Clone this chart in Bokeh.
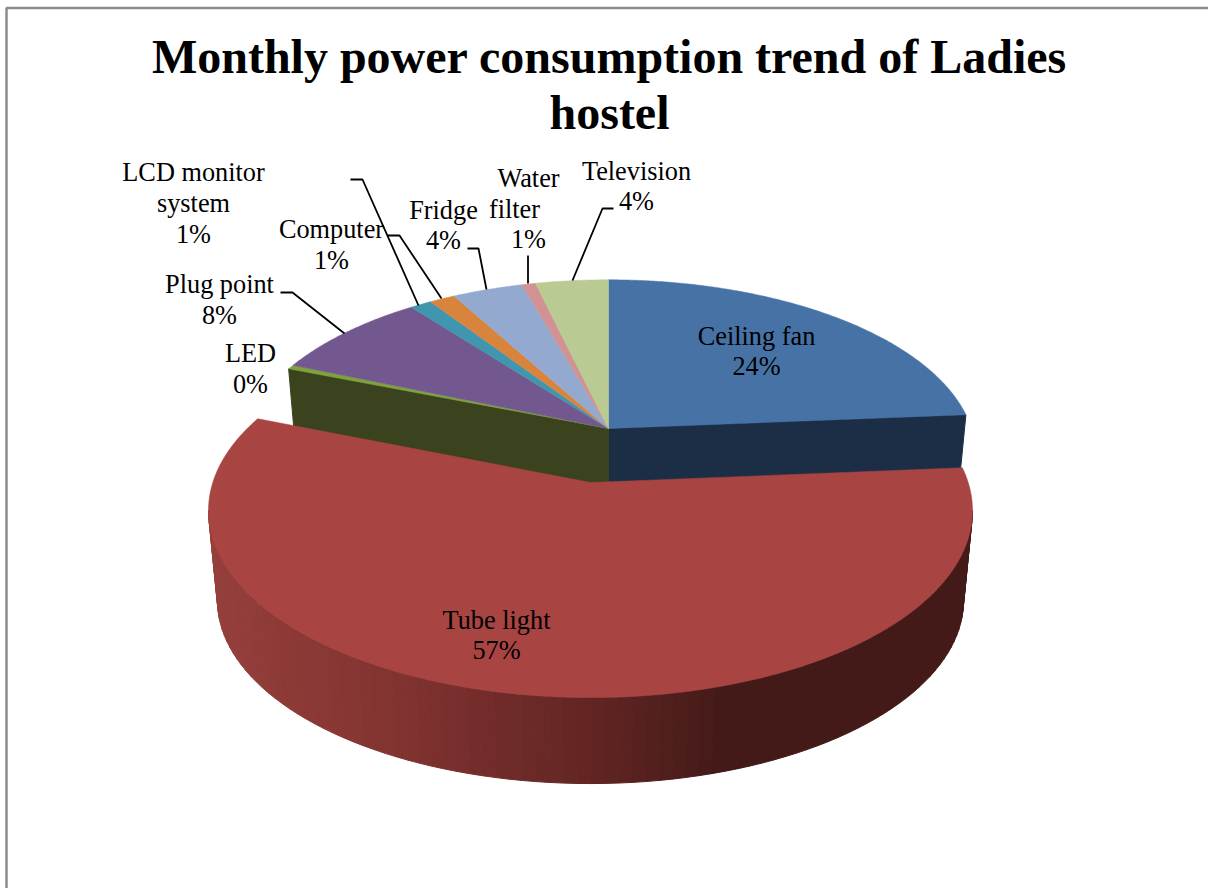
import numpy as np
from bokeh.plotting import figure
from bokeh.models import Range1d
from bokeh.core.properties import value
from bokeh.embed import file_html
from bokeh.resources import INLINE

# ---- data (clockwise from 12 o'clock) ----
categories = ["Ceiling fan", "Tube light", "LED", "Plug point", "LCD monitor system",
              "Computer", "Fridge", "Water filter", "Television"]
shares = [23.7, 57.3, 0.4, 8.2, 1.1, 1.3, 3.6, 0.7, 3.7]
title_lines = ["Monthly power consumption trend of Ladies", "hostel"]

# ---- style ----
top_colors = ["#4672a6", "#a84442", "#7fa23e", "#73578f", "#3f96ae",
              "#d9843c", "#93a9d0", "#d09292", "#b9cb92"]
cut_ceiling = "#1b2e46"
cut_led = "#3a431e"
wall_stops_x = [217, 400, 590, 720, 965]
wall_stops_rgb = [(0x95, 0x3f, 0x3b), (0x81, 0x33, 0x30), (0x62, 0x25, 0x23), (0x43, 0x1a, 0x18), (0x43, 0x1a, 0x18)]
K = 0.15  # perspective strength
BACK = dict(cx=608, cy=428, R=363, A=171)
BACK_LOW = dict(cx=608, cy=518, R=354, A=168)
FRONT = dict(cx=590, cy=482, R=377.7, A=182.8)
FRONT_LOW = dict(cx=590, cy=572.6, R=368.8, A=178.9)

# one label per slice: centre x, first baseline y
label_x = [756, 496, 250, 219, 193, 331, 443, 528, 636]
label_y0 = [336, 620, 353, 284, 172, 229, 210, 178, 171]
label_step = [30, 30, 31, 31, 31, 31, 30, 30.5, 30]
label_lines = [["Ceiling fan"], ["Tube light"], ["LED"], ["Plug point"], ["LCD monitor", "system"],
               ["Computer"], ["Fridge"], ["Water", "filter"], ["Television"]]
label_dx = {"filter": -14}
leaders = {
    3: ([280, 292, 344], [292, 292, 333]),
    4: ([350, 362, 418], [179, 179, 305]),
    5: ([387, 399, 441], [235, 235, 298]),
    6: ([467, 478, 486], [248, 248, 289]),
    7: ([527.5, 527.5], [255, 283]),
    8: ([613, 602, 572], [208, 208, 280]),
}


def proj(t_deg, g):
    t = np.radians(np.asarray(t_deg, dtype=float))
    u, v = np.sin(t), -np.cos(t)
    s = 1 / (1 - K * v)
    return g["cx"] + g["R"] * u * s, g["cy"] + g["A"] * v * s


edges = np.concatenate([[0], np.cumsum(shares)]) * 3.6
p = figure(width=1208, height=888, x_range=Range1d(0, 1208), y_range=Range1d(888, 0),
           output_backend="svg", toolbar_location=None, min_border=0, outline_line_color=None)
p.axis.visible = False
p.grid.visible = False
p.background_fill_color = "white"
p.border_fill_color = "white"

# chart frame
p.line([6, 6, 1208], [888, 7.5, 7.5], line_color="#8c8c8c", line_width=2.5)


def wedge(i, g):
    ts = np.linspace(edges[i], edges[i + 1], max(4, int((edges[i + 1] - edges[i]) * 2)))
    x, y = proj(ts, g)
    return np.r_[g["cx"], x], np.r_[g["cy"], y]


# cut faces of the main body, on both sides of the pulled-out slice
x1, y1 = proj(edges[1], BACK)
x2, y2 = proj(edges[1], BACK_LOW)
p.patch([BACK["cx"], x1, x2, BACK_LOW["cx"]], [BACK["cy"], y1, y2, BACK_LOW["cy"]],
        fill_color=cut_ceiling, line_color=cut_ceiling)
x1, y1 = proj(edges[2], BACK)
x2, y2 = proj(edges[2], BACK_LOW)
p.patch([BACK["cx"], x1, x2, BACK_LOW["cx"]], [BACK["cy"], y1, y2, BACK_LOW["cy"]],
        fill_color=cut_led, line_color=cut_led)

# top faces of the body
for i in range(len(shares)):
    if i == 1:
        continue
    x, y = wedge(i, BACK)
    p.patch(x, y, fill_color=top_colors[i], line_color=top_colors[i], line_width=0.5)

# exploded slice: shaded wall as strips, then its top
sil = np.degrees(np.arccos(K))
ts = np.linspace(90 + (90 - sil), 270 - (90 - sil), 91)
xs, ys, cs = [], [], []
for a, b in zip(ts[:-1], ts[1:]):
    xa, ya = proj([a, b], FRONT)
    xb, yb = proj([b, a], FRONT_LOW)
    xs.append([*xa, *xb])
    ys.append([*ya, *yb])
    xm = float(np.mean(xb))
    rgb = [int(round(np.interp(xm, wall_stops_x, [c[j] for c in wall_stops_rgb]))) for j in range(3)]
    cs.append("#%02x%02x%02x" % tuple(rgb))
p.patches(xs, ys, fill_color=cs, line_color=cs, line_width=1)
x, y = wedge(1, FRONT)
p.patch(x, y, fill_color=top_colors[1], line_color=top_colors[1], line_width=0.5)

# leaders
for lx, ly in leaders.values():
    p.line(lx, ly, line_color="black", line_width=1.8)

# texts
serif = value("Liberation Serif")
for i, name in enumerate(categories):
    lines = label_lines[i] + ["%d%%" % round(shares[i])]
    ypos = [label_y0[i] + k * label_step[i] for k in range(len(lines))]
    xpos = [label_x[i] + label_dx.get(t, 0) for t in lines]
    p.text(xpos, ypos, text=lines, text_font=serif, text_font_size="26.3px",
           text_align="center", text_baseline="alphabetic", text_color="black")
p.text([609, 609], [56, 112], text=title_lines, text_font=serif, text_font_size="48px",
       text_font_style="bold", text_align="center", text_baseline="alphabetic", text_color="black")

open("out.html", "w").write(file_html(p, INLINE))
